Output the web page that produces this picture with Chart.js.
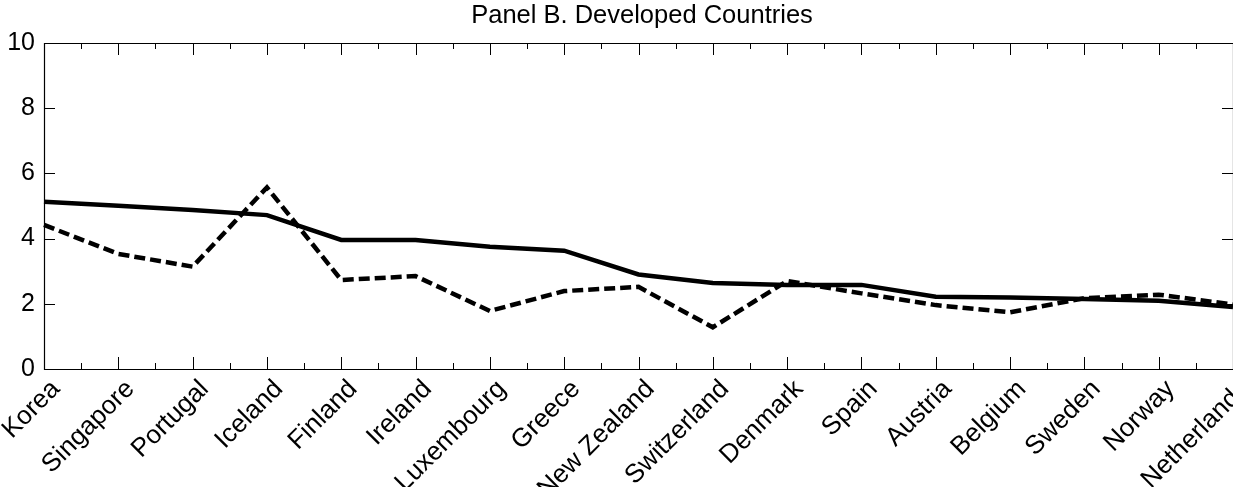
<!DOCTYPE html>
<html>
<head>
<meta charset="utf-8">
<script src="https://cdn.jsdelivr.net/npm/chart.js@4/dist/chart.umd.min.js"></script>
<style>
  html, body { margin: 0; padding: 0; background: #fff; }
</style>
</head>
<body>
<canvas id="chart" width="1233" height="487"></canvas>
<script>
// Country order on the x axis
const countries = ['Korea', 'Singapore', 'Portugal', 'Iceland', 'Finland', 'Ireland', 'Luxembourg',
    'Greece', 'New Zealand', 'Switzerland', 'Denmark', 'Spain', 'Austria', 'Belgium', 'Sweden',
    'Norway', 'Netherlands'];

// Solid line values
const solidValues = [5.13, 5.01, 4.88, 4.72, 3.96, 3.96, 3.75, 3.63, 2.90, 2.64, 2.58, 2.58,
    2.22, 2.19, 2.15, 2.09, 1.90];

// Dashed line values
const dashedValues = [4.42, 3.53, 3.14, 5.57, 2.73, 2.85, 1.78, 2.39, 2.52, 1.28, 2.70, 2.32,
    1.96, 1.74, 2.17, 2.28, 1.98];

const yTicks = [0, 2, 4, 6, 8, 10];
const titleText = 'Panel B. Developed Countries';

const FONT = "'Liberation Sans', Arial, Helvetica, sans-serif";

// Box frame with inward ticks (MATLAB look) + title centred over the axes
const framePlugin = {
    id: 'frame',
    afterDraw(chart) {
        const { ctx, chartArea: a, scales: { x, y } } = chart;
        ctx.save();
        ctx.strokeStyle = '#000';
        ctx.lineWidth = 1.2;
        ctx.beginPath();
        ctx.rect(Math.round(a.left) + 0.5, Math.round(a.top) + 0.5,
            Math.round(a.right - a.left), Math.round(a.bottom - a.top));
        ctx.stroke();

        ctx.lineWidth = 1;
        ctx.beginPath();
        countries.forEach((c, i) => {
            const px = Math.round(x.getPixelForValue(i)) + 0.5;
            ctx.moveTo(px, a.bottom); ctx.lineTo(px, a.bottom - 12);
            ctx.moveTo(px, a.top); ctx.lineTo(px, a.top + 12);
            if (i < countries.length - 1) {
                const mx = Math.round((x.getPixelForValue(i) + x.getPixelForValue(i + 1)) / 2) + 0.5;
                ctx.moveTo(mx, a.bottom); ctx.lineTo(mx, a.bottom - 6);
                ctx.moveTo(mx, a.top); ctx.lineTo(mx, a.top + 6);
            }
        });
        yTicks.forEach(v => {
            const py = Math.round(y.getPixelForValue(v)) + 0.5;
            ctx.moveTo(a.left, py); ctx.lineTo(a.left + 11, py);
            ctx.moveTo(a.right, py); ctx.lineTo(a.right - 11, py);
        });
        ctx.stroke();

        ctx.fillStyle = '#000';
        ctx.font = '25.5px ' + FONT;
        ctx.textAlign = 'center';
        ctx.textBaseline = 'alphabetic';
        ctx.fillText(titleText, 642, 22.5);
        ctx.restore();
    }
};

const ctx = document.getElementById('chart').getContext('2d');
new Chart(ctx, {
    type: 'line',
    data: {
        labels: countries,
        datasets: [{
            label: 'Solid',
            data: solidValues,
            borderColor: '#000',
            borderWidth: 4.5,
            pointRadius: 0,
            tension: 0,
            fill: false
        }, {
            label: 'Dashed',
            data: dashedValues,
            borderColor: '#000',
            borderWidth: 4.5,
            borderDash: [11, 5],
            pointRadius: 0,
            tension: 0,
            fill: false
        }]
    },
    options: {
        responsive: false,
        animation: false,
        devicePixelRatio: 1,
        layout: { padding: { left: 0, right: 0, top: 43, bottom: 0 } },
        plugins: {
            legend: { display: false },
            tooltip: { enabled: false },
            title: { display: false }
        },
        scales: {
            x: {
                offset: false,
                grid: { display: false, drawTicks: false },
                border: { display: false },
                ticks: {
                    color: '#000',
                    font: { family: FONT, size: 26 },
                    autoSkip: false,
                    maxRotation: 45,
                    minRotation: 45,
                    padding: 5,
                    labelOffset: 12
                },
                afterFit(scale) { scale.height = 118; scale.paddingLeft = 0; scale.paddingRight = 0; }
            },
            y: {
                min: 0,
                max: 10,
                grid: { display: false, drawTicks: false },
                border: { display: false },
                ticks: {
                    color: '#000',
                    font: { family: FONT, size: 25 },
                    stepSize: 2,
                    padding: 9
                },
                afterFit(scale) { scale.width = 44; }
            }
        }
    },
    plugins: [framePlugin]
});
</script>
</body>
</html>
